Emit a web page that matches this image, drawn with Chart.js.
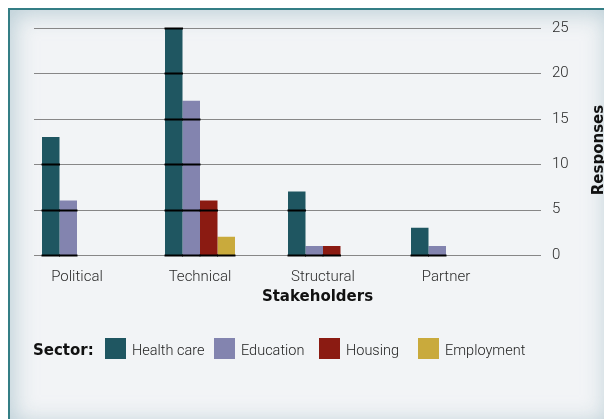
<!DOCTYPE html>
<html><head><meta charset="utf-8">
<script src="https://cdn.jsdelivr.net/npm/chart.js@4/dist/chart.umd.min.js"></script>
<style>
html,body{margin:0;padding:0;width:604px;height:419px;overflow:hidden;background:#fff;}
#panel{position:absolute;left:8px;top:8px;width:600px;height:416px;border-left:2px solid #347e85;border-top:2px solid #347e85;background:#f2f4f6;box-shadow:inset 0 0 22px 4px rgba(160,188,198,0.65);}
#wrap{position:absolute;left:0;top:0;width:604px;height:419px;}
.b{position:absolute;font-family:"DejaVu Sans";font-weight:bold;font-size:15px;color:#111;white-space:nowrap;line-height:18px;}
.lg{position:absolute;top:338px;height:21px;display:flex;align-items:center;font-family:Roboto;font-weight:300;font-size:14.5px;color:#222;white-space:nowrap;}
.lg span.sw{display:inline-block;width:21px;height:21px;margin-right:6px;}
.lg span.tx{position:relative;top:2px;}
</style></head>
<body>
<div id="panel"></div>
<div id="wrap"><canvas id="c" width="604" height="419"></canvas></div>
<div class="b" id="xt" style="left:0;width:635px;text-align:center;top:287px;">Stakeholders</div>
<div class="b" id="yt" style="left:552px;top:141px;width:92px;text-align:center;transform:rotate(-90deg);transform-origin:46px 9px;">Responses</div>
<div class="b" id="lt" style="left:33px;top:341px;">Sector:</div>
<div id="legend"></div>
<script>
const categories = ["Political", "Technical", "Structural", "Partner"];
const seriesNames = ["Health care", "Education", "Housing", "Employment"];
const healthCare = [13, 25, 7, 3];
const education = [6, 17, 1, 1];
const housing = [null, 6, 1, null];
const employment = [null, 2, null, null];
const yTicks = [0, 5, 10, 15, 20, 25];
const xTitle = "Stakeholders";
const yTitle = "Responses";
const legendTitle = "Sector:";

const colors = ["#1f5661", "#8384af", "#8b1b12", "#c9aa3c"];
const legendLeft = [105, 214, 319, 418];

document.getElementById('xt').textContent = xTitle;
document.getElementById('yt').textContent = yTitle;
document.getElementById('lt').textContent = legendTitle;

const seriesData = [healthCare, education, housing, employment];
const lg = document.getElementById('legend');
seriesNames.forEach((n, i) => {
  const d = document.createElement('div');
  d.className = 'lg';
  d.style.left = legendLeft[i] + 'px';
  d.innerHTML = '<span class="sw" style="background:' + colors[i] + '"></span><span class="tx">' + n + '</span>';
  lg.appendChild(d);
});

const gridPlugin = {
  id: 'gridOverlay',
  beforeDatasetsDraw(chart) {
    const y = chart.scales.y, ctx = chart.ctx, a = chart.chartArea;
    ctx.save();
    ctx.strokeStyle = '#878787';
    ctx.lineWidth = 1.2;
    yTicks.forEach(v => {
      const py = Math.round(y.getPixelForValue(v)) + 0.5;
      ctx.beginPath(); ctx.moveTo(a.left + 18.5, py); ctx.lineTo(a.right + 33.5, py); ctx.stroke();
    });
    ctx.restore();
  },
  afterDatasetsDraw(chart) {
    const y = chart.scales.y, ctx = chart.ctx;
    ctx.save();
    ctx.strokeStyle = '#000';
    ctx.lineWidth = 2;
    chart.data.datasets.forEach((ds, di) => {
      const meta = chart.getDatasetMeta(di);
      meta.data.forEach((bar, i) => {
        const v = ds.data[i];
        if (v === null || v === undefined) return;
        const p = bar.getProps(['x', 'width'], true);
        yTicks.forEach(t => {
          if (v >= t) {
            const py = Math.round(y.getPixelForValue(t)) + 0.5;
            ctx.beginPath(); ctx.moveTo(p.x - p.width / 2 - 0.5, py); ctx.lineTo(p.x + p.width / 2 + 0.5, py); ctx.stroke();
          }
        });
      });
    });
    ctx.restore();
  }
};

new Chart(document.getElementById('c'), {
  type: 'bar',
  data: {
    labels: categories,
    datasets: seriesNames.map((n, i) => ({
      label: n,
      data: seriesData[i],
      backgroundColor: colors[i],
      borderWidth: 0,
      barPercentage: 1,
      categoryPercentage: 0.569
    }))
  },
  options: {
    responsive: false,
    animation: false,
    devicePixelRatio: 1,
    layout: { padding: { left: 15.5, right: 0, top: 28, bottom: 134 } },
    plugins: { legend: { display: false }, tooltip: { enabled: false } },
    scales: {
      x: {
        grid: { display: false, drawTicks: false },
        border: { display: false },
        ticks: { font: { family: 'Roboto', size: 15, weight: 300 }, color: '#2a2a2a', padding: 13, maxRotation: 0 },
        afterFit(s) { s.height = 30; }
      },
      y: {
        position: 'right',
        min: 0, max: 25,
        afterBuildTicks(s) { s.ticks = yTicks.map(v => ({ value: v })); },
        grid: { display: false, drawTicks: true, tickLength: 44.5 },
        border: { display: false },
        ticks: { font: { family: 'Roboto', size: 15, weight: 300 }, color: '#2a2a2a', padding: 0 },
        afterFit(s) { s.width = 96.5; }
      }
    }
  },
  plugins: [gridPlugin]
});
</script>
</body></html>
